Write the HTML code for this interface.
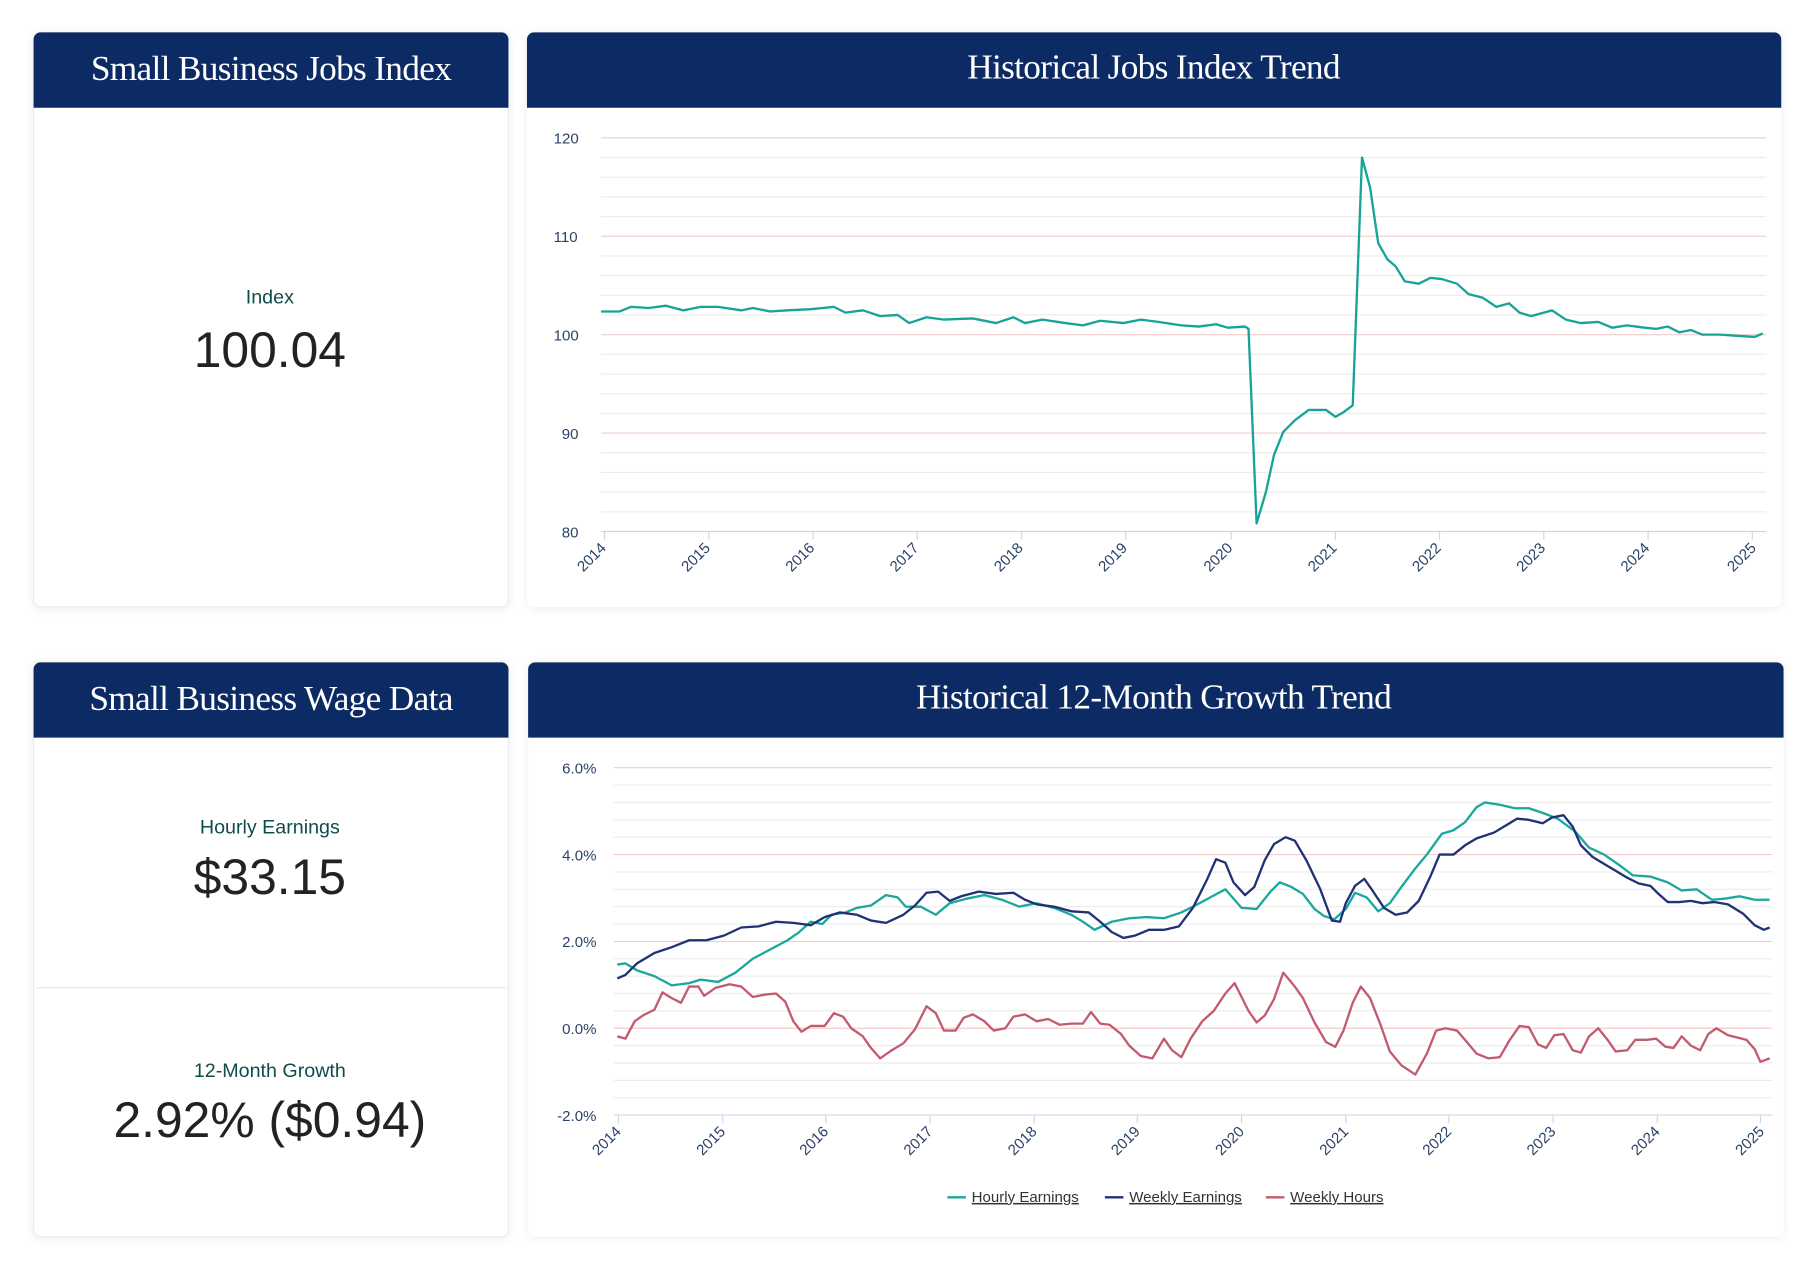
<!DOCTYPE html>
<html><head><meta charset="utf-8"><style>
html,body{margin:0;padding:0;background:#fff;width:1816px;height:1283px;overflow:hidden}
svg{display:block}
.hd{font-family:"Liberation Serif",serif;font-size:30.5px;fill:#fff;text-anchor:middle;letter-spacing:-0.6px}
.lb{font-family:"Liberation Sans",sans-serif;font-size:17px;fill:#0f4d4a;text-anchor:middle}
.big{font-family:"Liberation Sans",sans-serif;fill:#222;text-anchor:middle}
.tk{font-family:"Liberation Sans",sans-serif;font-size:13px;fill:#2a4268}
.lg{font-family:"Liberation Sans",sans-serif;font-size:13px;fill:#333;text-decoration:underline}
</style></head><body>
<svg width="1816" height="1283" viewBox="0 0 1568 1108" preserveAspectRatio="none">
<defs><filter id="sh" x="-5%" y="-5%" width="110%" height="110%"><feDropShadow dx="0" dy="1" stdDeviation="4" flood-color="#000" flood-opacity="0.08"/></filter></defs>
<g filter="url(#sh)">
<rect x="29" y="28" width="410" height="496" rx="6" fill="#fff" stroke="#e6ecef"/>
<rect x="455" y="28" width="1083" height="496" rx="6" fill="#fff"/>
<rect x="29" y="572" width="410" height="496" rx="6" fill="#fff" stroke="#e6ecef"/>
<rect x="456" y="572" width="1084" height="496" rx="6" fill="#fff"/>
</g>
<path d="M29 93V34a6 6 0 0 1 6-6h398a6 6 0 0 1 6 6v59z" fill="#0c2a63"/>
<path d="M455 93V34a6 6 0 0 1 6-6h1071a6 6 0 0 1 6 6v59z" fill="#0c2a63"/>
<path d="M29 637V578a6 6 0 0 1 6-6h398a6 6 0 0 1 6 6v59z" fill="#0c2a63"/>
<path d="M456 637V578a6 6 0 0 1 6-6h1072a6 6 0 0 1 6 6v59z" fill="#0c2a63"/>
<text class="hd" x="234" y="69">Small Business Jobs Index</text>
<text class="hd" x="996" y="68">Historical Jobs Index Trend</text>
<text class="hd" x="234" y="613">Small Business Wage Data</text>
<text class="hd" x="996" y="612">Historical 12-Month Growth Trend</text>
<line x1="31" y1="853" x2="437" y2="853" stroke="#e3eaec"/>
<text class="lb" x="233" y="262">Index</text>
<text class="big" x="233" y="317" font-size="43">100.04</text>
<text class="lb" x="233" y="720">Hourly Earnings</text>
<text class="big" x="233" y="772" font-size="43">$33.15</text>
<text class="lb" x="233" y="930">12-Month Growth</text>
<text class="big" x="233" y="982" font-size="43">2.92% ($0.94)</text>

<g stroke="#ececec" stroke-width="1">
<line x1="519" x2="1525" y1="136" y2="136"/><line x1="519" x2="1525" y1="153" y2="153"/><line x1="519" x2="1525" y1="170" y2="170"/><line x1="519" x2="1525" y1="187" y2="187"/>
<line x1="519" x2="1525" y1="221" y2="221"/><line x1="519" x2="1525" y1="238" y2="238"/><line x1="519" x2="1525" y1="255" y2="255"/><line x1="519" x2="1525" y1="272" y2="272"/>
<line x1="519" x2="1525" y1="306" y2="306"/><line x1="519" x2="1525" y1="323" y2="323"/><line x1="519" x2="1525" y1="340" y2="340"/><line x1="519" x2="1525" y1="357" y2="357"/>
<line x1="519" x2="1525" y1="391" y2="391"/><line x1="519" x2="1525" y1="408" y2="408"/><line x1="519" x2="1525" y1="425" y2="425"/><line x1="519" x2="1525" y1="442" y2="442"/>
</g>
<g stroke="#f2cccc" stroke-width="1">
<line x1="519" x2="1525" y1="119" y2="119"/><line x1="519" x2="1525" y1="204" y2="204"/><line x1="519" x2="1525" y1="289" y2="289"/><line x1="519" x2="1525" y1="374" y2="374"/>
</g>
<line x1="519" x2="1525" y1="459" y2="459" stroke="#ccd6eb"/>
<g class="tk"><text x="478" y="124">120</text><text x="478" y="209">110</text><text x="478" y="294">100</text><text x="485" y="379">90</text><text x="485" y="464">80</text></g>
<g stroke="#ccd6eb"><line x1="522" x2="522" y1="459" y2="466"/><line x1="612" x2="612" y1="459" y2="466"/><line x1="702" x2="702" y1="459" y2="466"/><line x1="792" x2="792" y1="459" y2="466"/><line x1="882" x2="882" y1="459" y2="466"/><line x1="972" x2="972" y1="459" y2="466"/><line x1="1063" x2="1063" y1="459" y2="466"/><line x1="1153" x2="1153" y1="459" y2="466"/><line x1="1243" x2="1243" y1="459" y2="466"/><line x1="1333" x2="1333" y1="459" y2="466"/><line x1="1423" x2="1423" y1="459" y2="466"/><line x1="1513" x2="1513" y1="459" y2="466"/></g>
<g class="tk" text-anchor="end">
<text transform="translate(524,474) rotate(-45)">2014</text><text transform="translate(614,474) rotate(-45)">2015</text><text transform="translate(704,474) rotate(-45)">2016</text><text transform="translate(794,474) rotate(-45)">2017</text><text transform="translate(884,474) rotate(-45)">2018</text><text transform="translate(974,474) rotate(-45)">2019</text><text transform="translate(1065,474) rotate(-45)">2020</text><text transform="translate(1155,474) rotate(-45)">2021</text><text transform="translate(1245,474) rotate(-45)">2022</text><text transform="translate(1335,474) rotate(-45)">2023</text><text transform="translate(1425,474) rotate(-45)">2024</text><text transform="translate(1517,474) rotate(-45)">2025</text>
</g>
<polyline fill="none" stroke="#17a398" stroke-width="2" stroke-linejoin="round" points="519,269 535,269 545,265 560,266 575,264 590,268 605,265 620,265 640,268 650,266 665,269 680,268 700,267 720,265 730,270 745,268 760,273 775,272 785,279 800,274 815,276 840,275 860,279 875,274 885,279 900,276 920,279 935,281 950,277 970,279 985,276 1000,278 1020,281 1035,282 1050,280 1060,283 1075,282 1078,284 1085,452 1093,425 1100,393 1108,373 1118,363 1130,354 1145,354 1153,360 1160,356 1168,350 1176,136 1183,162 1190,210 1198,224 1205,230 1213,243 1225,245 1235,240 1245,241 1258,245 1268,254 1280,257 1292,265 1303,262 1312,270 1322,273 1340,268 1352,276 1365,279 1380,278 1392,283 1405,281 1420,283 1430,284 1440,282 1450,287 1460,285 1470,289 1485,289 1500,290 1515,291 1522,288"/>

<g stroke="#ececec">
<line x1="530" x2="1530" y1="678" y2="678"/><line x1="530" x2="1530" y1="693" y2="693"/><line x1="530" x2="1530" y1="708" y2="708"/><line x1="530" x2="1530" y1="723" y2="723"/>
<line x1="530" x2="1530" y1="753" y2="753"/><line x1="530" x2="1530" y1="768" y2="768"/><line x1="530" x2="1530" y1="783" y2="783"/><line x1="530" x2="1530" y1="798" y2="798"/>
<line x1="530" x2="1530" y1="828" y2="828"/><line x1="530" x2="1530" y1="843" y2="843"/><line x1="530" x2="1530" y1="858" y2="858"/><line x1="530" x2="1530" y1="873" y2="873"/>
<line x1="530" x2="1530" y1="903" y2="903"/><line x1="530" x2="1530" y1="918" y2="918"/><line x1="530" x2="1530" y1="933" y2="933"/><line x1="530" x2="1530" y1="948" y2="948"/>
</g>
<g stroke="#f2cccc"><line x1="530" x2="1530" y1="663" y2="663"/><line x1="530" x2="1530" y1="738" y2="738"/><line x1="530" x2="1530" y1="813" y2="813"/><line x1="530" x2="1530" y1="888" y2="888"/></g>
<line x1="530" x2="1530" y1="963" y2="963" stroke="#ccd6eb"/>
<g class="tk" text-anchor="end"><text x="515" y="668">6.0%</text><text x="515" y="743">4.0%</text><text x="515" y="818">2.0%</text><text x="515" y="893">0.0%</text><text x="515" y="968">-2.0%</text></g>
<g stroke="#ccd6eb"><line x1="534" x2="534" y1="963" y2="970"/><line x1="624" x2="624" y1="963" y2="970"/><line x1="713" x2="713" y1="963" y2="970"/><line x1="803" x2="803" y1="963" y2="970"/><line x1="893" x2="893" y1="963" y2="970"/><line x1="982" x2="982" y1="963" y2="970"/><line x1="1072" x2="1072" y1="963" y2="970"/><line x1="1162" x2="1162" y1="963" y2="970"/><line x1="1251" x2="1251" y1="963" y2="970"/><line x1="1341" x2="1341" y1="963" y2="970"/><line x1="1431" x2="1431" y1="963" y2="970"/><line x1="1520" x2="1520" y1="963" y2="970"/></g>
<g class="tk" text-anchor="end">
<text transform="translate(537,978) rotate(-45)">2014</text><text transform="translate(627,978) rotate(-45)">2015</text><text transform="translate(716,978) rotate(-45)">2016</text><text transform="translate(806,978) rotate(-45)">2017</text><text transform="translate(896,978) rotate(-45)">2018</text><text transform="translate(985,978) rotate(-45)">2019</text><text transform="translate(1075,978) rotate(-45)">2020</text><text transform="translate(1165,978) rotate(-45)">2021</text><text transform="translate(1254,978) rotate(-45)">2022</text><text transform="translate(1344,978) rotate(-45)">2023</text><text transform="translate(1434,978) rotate(-45)">2024</text><text transform="translate(1524,978) rotate(-45)">2025</text>
</g>
<g fill="none" stroke-width="2" stroke-linejoin="round">
<polyline stroke="#c25b6e" points="533,895 540,897 548,882 555,877 565,872 572,857 580,862 588,866 595,852 603,852 608,860 618,853 630,850 640,852 650,861 660,859 670,858 678,865 685,882 692,891 700,886 712,886 720,875 728,878 735,888 745,895 752,905 760,914 770,907 780,901 790,889 800,869 808,875 815,890 825,890 832,879 840,876 850,882 858,890 868,888 875,878 885,876 895,882 905,880 915,885 925,884 935,884 942,874 950,884 958,885 968,893 975,903 985,912 995,914 1005,897 1012,907 1020,913 1028,897 1038,882 1048,873 1058,858 1066,849 1078,873 1085,883 1092,877 1100,863 1108,840 1118,852 1125,862 1135,883 1145,900 1153,904 1160,890 1168,866 1175,852 1183,862 1192,885 1200,908 1210,920 1222,928 1232,910 1240,890 1248,888 1258,890 1265,898 1275,910 1285,914 1295,913 1303,899 1312,886 1320,887 1328,902 1335,905 1342,894 1350,893 1358,907 1365,909 1372,895 1380,888 1388,898 1395,908 1405,907 1412,898 1422,898 1430,897 1438,904 1445,905 1452,895 1460,903 1468,907 1475,893 1482,888 1492,894 1500,896 1508,898 1515,906 1520,917 1528,914"/>
<polyline stroke="#1ba89c" points="533,833 540,832 550,838 565,843 580,851 595,849 605,846 620,848 635,840 650,828 665,820 680,812 690,805 700,796 710,798 718,790 730,788 740,784 752,782 765,773 775,775 782,783 795,783 808,790 820,780 835,776 850,773 865,777 880,783 895,780 910,784 925,790 935,796 945,803 960,796 975,793 990,792 1005,793 1020,788 1032,782 1045,775 1058,768 1072,784 1085,785 1097,770 1105,762 1115,766 1125,772 1135,785 1143,791 1152,794 1162,785 1170,771 1180,775 1190,787 1200,780 1210,766 1222,750 1232,738 1245,720 1255,717 1265,710 1275,697 1282,693 1295,695 1308,698 1320,698 1332,702 1345,707 1360,718 1372,732 1385,738 1398,747 1410,756 1425,757 1440,762 1452,769 1465,768 1478,777 1490,776 1502,774 1515,777 1528,777"/>
<polyline stroke="#1f3274" points="533,845 540,842 550,832 565,823 580,818 595,812 610,812 625,808 640,801 655,800 670,796 685,797 700,799 712,792 725,788 740,790 752,795 765,797 780,790 790,782 800,771 810,770 820,778 830,774 845,770 860,772 875,771 885,777 895,781 910,783 925,787 940,788 950,796 960,805 970,810 980,808 992,803 1005,803 1018,800 1030,784 1042,760 1050,742 1058,745 1065,762 1075,773 1083,766 1092,743 1100,729 1110,723 1118,726 1128,743 1140,768 1150,795 1157,796 1162,780 1170,765 1178,759 1185,769 1195,784 1205,790 1215,788 1225,778 1235,757 1243,738 1255,738 1265,730 1275,724 1290,719 1300,713 1310,707 1320,708 1332,711 1340,706 1350,704 1358,714 1365,730 1375,740 1385,746 1395,752 1405,758 1415,763 1425,765 1432,772 1440,779 1450,779 1460,778 1470,780 1480,779 1492,781 1505,789 1515,799 1523,803 1528,801"/>
</g>
<line x1="818" x2="834" y1="1034" y2="1034" stroke="#1ba89c" stroke-width="2"/><text class="lg" x="839" y="1038">Hourly Earnings</text>
<line x1="954" x2="970" y1="1034" y2="1034" stroke="#1f3274" stroke-width="2"/><text class="lg" x="975" y="1038">Weekly Earnings</text>
<line x1="1093" x2="1109" y1="1034" y2="1034" stroke="#c25b6e" stroke-width="2"/><text class="lg" x="1114" y="1038">Weekly Hours</text>
</svg>
</body></html>
